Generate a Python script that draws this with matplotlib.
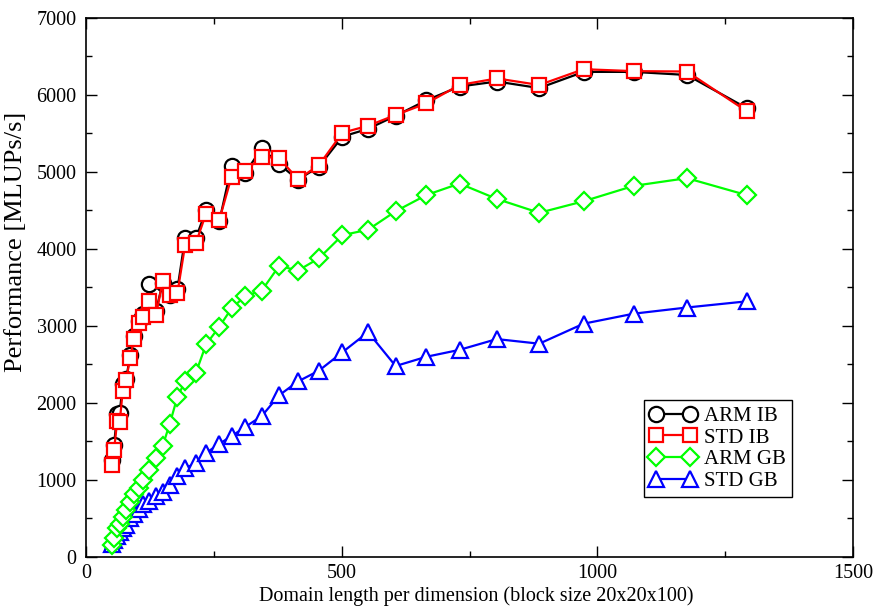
import matplotlib
matplotlib.use("Agg")
import matplotlib.pyplot as plt
from matplotlib.ticker import MultipleLocator

plt.rcParams['font.family'] = ['Liberation Serif', 'DejaVu Serif']

# domain length per dimension
domain = [49, 54, 60, 65, 71, 78, 85, 93, 102, 111, 123, 136, 149, 163, 178,
          193, 214, 234, 260, 284, 311, 343, 377, 414, 455, 501, 551, 605,
          665, 730, 803, 886, 973, 1071, 1175, 1292]

arm_ib = [1260, 1455, 1860, 1870, 2250, 2310, 2620, 2870, 3060, 3160, 3545,
          3190, 3560, 3400, 3480, 4140, 4140, 4500, 4360, 5080, 4990, 5310,
          5100, 4900, 5070, 5460, 5560, 5730, 5930, 6110, 6175, 6090, 6300,
          6300, 6260, 5830]
std_ib = [1195, 1390, 1760, 1750, 2160, 2300, 2580, 2830, 3040, 3120, 3320,
          3140, 3580, 3400, 3430, 4050, 4075, 4460, 4380, 4940, 5015, 5200,
          5180, 4905, 5090, 5510, 5600, 5740, 5890, 6130, 6215, 6130, 6335,
          6310, 6305, 5790]
arm_gb = [150, 250, 370, 430, 520, 610, 720, 820, 900, 1000, 1130, 1280, 1440,
          1730, 2080, 2280, 2390, 2760, 2990, 3230, 3390, 3460, 3780, 3720,
          3880, 4180, 4250, 4490, 4700, 4850, 4650, 4470, 4620, 4820, 4920,
          4700]
std_gb = [170, 220, 270, 320, 370, 420, 500, 560, 620, 690, 730, 790, 850,
          940, 1050, 1150, 1220, 1350, 1470, 1570, 1690, 1830, 2100, 2280,
          2420, 2660, 2920, 2480, 2600, 2690, 2830, 2770, 3030, 3160, 3240,
          3320]

fig = plt.figure(figsize=(8.77, 6.06), dpi=100)
ax = fig.add_axes([0.0986, 0.0809, 0.8740, 0.8894])

lw = 1.6
ax.plot(domain, std_gb, color='#0000ff', marker='^', label='STD GB', zorder=3,
        linewidth=lw, markeredgewidth=lw, markerfacecolor='white', markersize=11)
ax.plot(domain, arm_gb, color='#00ff00', marker='D', label='ARM GB', zorder=4,
        linewidth=lw, markeredgewidth=lw, markerfacecolor='white', markersize=9.5)
ax.plot(domain, arm_ib, color='black', marker='o', label='ARM IB', zorder=5,
        linewidth=lw, markeredgewidth=lw, markerfacecolor='white', markersize=11)
ax.plot(domain, std_ib, color='#ff0000', marker='s', label='STD IB', zorder=6,
        linewidth=lw, markeredgewidth=lw, markerfacecolor='white', markersize=10)

ax.set_xlim(0, 1500)
ax.set_ylim(0, 7000)
ax.xaxis.set_major_locator(MultipleLocator(500))
ax.xaxis.set_minor_locator(MultipleLocator(250))
ax.yaxis.set_major_locator(MultipleLocator(1000))
ax.yaxis.set_minor_locator(MultipleLocator(500))
ax.tick_params(which='both', direction='in', top=True, right=True,
               labelsize=14.5, width=1.0)
ax.tick_params(which='major', length=8)
ax.tick_params(which='minor', length=4)
ax.tick_params(axis='x', which='major', pad=5)
ax.tick_params(axis='y', which='major', pad=7)
for s in ax.spines.values():
    s.set_linewidth(1.2)

ax.set_xlabel('Domain length per dimension (block size 20x20x100)', fontsize=14.5)
ax.set_ylabel('Performance [MLUPs/s]', fontsize=19)
ax.xaxis.set_label_coords(0.508, -0.055)
ax.yaxis.set_label_coords(-0.077, 0.585)

h, l = ax.get_legend_handles_labels()
order = [2, 3, 1, 0]
leg = ax.legend([h[i] for i in order], [l[i] for i in order],
                loc='lower left', bbox_to_anchor=(0.727, 0.111), numpoints=2,
                fontsize=15, fancybox=False, edgecolor='black', framealpha=1,
                handlelength=2.2, handletextpad=0.4, labelspacing=0.1,
                borderpad=0.3, borderaxespad=0)
leg.get_frame().set_linewidth(1.0)

fig.savefig('out.png', dpi=100)
